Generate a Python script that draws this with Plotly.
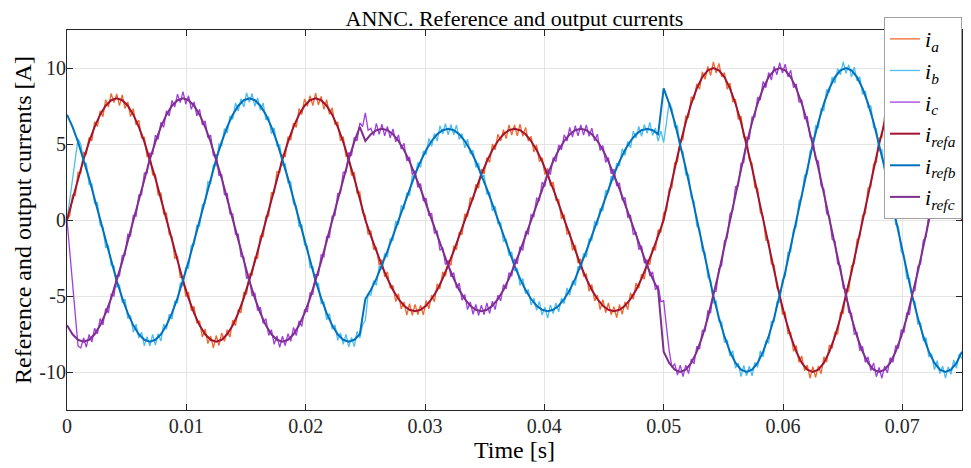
import plotly.graph_objects as go

# reference currents: one sample every 10 electrical degrees of the 60 Hz grid
REF_START = 0.0
REF_STEP = 0.075 / 162
# measured currents: one sample every 5 electrical degrees
OUT_START = 0.0
OUT_STEP = 0.075 / 324

# reference currents (A)
i_refa = [0, 1.39, 2.74, 4.00, 5.14, 6.13, 6.93, 7.52, 7.88, 8.00, 7.88, 7.52, 6.93, 6.13, 5.14, 4.00, 2.74, 1.39,
          0, -1.39, -2.74, -4.00, -5.14, -6.13, -6.93, -7.52, -7.88, -8.00, -7.88, -7.52, -6.93, -6.13, -5.14, -4.00, -2.74, -1.39,
          0, 1.39, 2.74, 4.00, 5.14, 6.13, 6.93, 7.52, 7.88, 8.00, 7.88, 7.52, 6.93, 6.13, 5.14, 4.00, 2.74, 1.39,
          0, -1.04, -2.05, -3.00, -3.86, -4.60, -5.20, -5.64, -5.91, -6.00, -5.91, -5.64, -5.20, -4.60, -3.86, -3.00, -2.05, -1.04,
          0, 1.04, 2.05, 3.00, 3.86, 4.60, 5.20, 5.64, 5.91, 6.00, 5.91, 5.64, 5.20, 4.60, 3.86, 3.00, 2.05, 1.04,
          0, -1.04, -2.05, -3.00, -3.86, -4.60, -5.20, -5.64, -5.91, -6.00, -5.91, -5.64, -5.20, -4.60, -3.86, -3.00, -2.05, -1.04,
          0, 1.74, 3.42, 5.00, 6.43, 7.66, 8.66, 9.40, 9.85, 10.00, 9.85, 9.40, 8.66, 7.66, 6.43, 5.00, 3.42, 1.74,
          0, -1.74, -3.42, -5.00, -6.43, -7.66, -8.66, -9.40, -9.85, -10.00, -9.85, -9.40, -8.66, -7.66, -6.43, -5.00, -3.42, -1.74,
          0, 1.74, 3.42, 5.00, 6.43, 7.66, 8.66, 9.40, 9.85, 10.00, 9.85, 9.40, 8.66, 7.66, 6.43, 5.00, 3.42, 1.74,
          0]
i_refb = [6.93, 6.13, 5.14, 4.00, 2.74, 1.39, 0, -1.39, -2.74, -4.00, -5.14, -6.13, -6.93, -7.52, -7.88, -8.00, -7.88, -7.52,
          -6.93, -6.13, -5.14, -4.00, -2.74, -1.39, 0, 1.39, 2.74, 4.00, 5.14, 6.13, 6.93, 7.52, 7.88, 8.00, 7.88, 7.52,
          6.93, 6.13, 5.14, 4.00, 2.74, 1.39, 0, -1.39, -2.74, -4.00, -5.14, -6.13, -6.93, -7.52, -7.88, -8.00, -7.88, -7.52,
          -5.20, -4.60, -3.86, -3.00, -2.05, -1.04, 0, 1.04, 2.05, 3.00, 3.86, 4.60, 5.20, 5.64, 5.91, 6.00, 5.91, 5.64,
          5.20, 4.60, 3.86, 3.00, 2.05, 1.04, 0, -1.04, -2.05, -3.00, -3.86, -4.60, -5.20, -5.64, -5.91, -6.00, -5.91, -5.64,
          -5.20, -4.60, -3.86, -3.00, -2.05, -1.04, 0, 1.04, 2.05, 3.00, 3.86, 4.60, 5.20, 5.64, 5.91, 6.00, 5.91, 5.64,
          8.66, 7.66, 6.43, 5.00, 3.42, 1.74, 0, -1.74, -3.42, -5.00, -6.43, -7.66, -8.66, -9.40, -9.85, -10.00, -9.85, -9.40,
          -8.66, -7.66, -6.43, -5.00, -3.42, -1.74, 0, 1.74, 3.42, 5.00, 6.43, 7.66, 8.66, 9.40, 9.85, 10.00, 9.85, 9.40,
          8.66, 7.66, 6.43, 5.00, 3.42, 1.74, 0, -1.74, -3.42, -5.00, -6.43, -7.66, -8.66, -9.40, -9.85, -10.00, -9.85, -9.40,
          -8.66]
i_refc = [-6.93, -7.52, -7.88, -8.00, -7.88, -7.52, -6.93, -6.13, -5.14, -4.00, -2.74, -1.39, 0, 1.39, 2.74, 4.00, 5.14, 6.13,
          6.93, 7.52, 7.88, 8.00, 7.88, 7.52, 6.93, 6.13, 5.14, 4.00, 2.74, 1.39, 0, -1.39, -2.74, -4.00, -5.14, -6.13,
          -6.93, -7.52, -7.88, -8.00, -7.88, -7.52, -6.93, -6.13, -5.14, -4.00, -2.74, -1.39, 0, 1.39, 2.74, 4.00, 5.14, 6.13,
          5.20, 5.64, 5.91, 6.00, 5.91, 5.64, 5.20, 4.60, 3.86, 3.00, 2.05, 1.04, 0, -1.04, -2.05, -3.00, -3.86, -4.60,
          -5.20, -5.64, -5.91, -6.00, -5.91, -5.64, -5.20, -4.60, -3.86, -3.00, -2.05, -1.04, 0, 1.04, 2.05, 3.00, 3.86, 4.60,
          5.20, 5.64, 5.91, 6.00, 5.91, 5.64, 5.20, 4.60, 3.86, 3.00, 2.05, 1.04, 0, -1.04, -2.05, -3.00, -3.86, -4.60,
          -8.66, -9.40, -9.85, -10.00, -9.85, -9.40, -8.66, -7.66, -6.43, -5.00, -3.42, -1.74, 0, 1.74, 3.42, 5.00, 6.43, 7.66,
          8.66, 9.40, 9.85, 10.00, 9.85, 9.40, 8.66, 7.66, 6.43, 5.00, 3.42, 1.74, 0, -1.74, -3.42, -5.00, -6.43, -7.66,
          -8.66, -9.40, -9.85, -10.00, -9.85, -9.40, -8.66, -7.66, -6.43, -5.00, -3.42, -1.74, 0, 1.74, 3.42, 5.00, 6.43, 7.66,
          8.66]

# measured output currents (A), with the inverter switching ripple
i_a = [0, 0.30, 1.64, 1.62, 3.14, 3.08, 4.45, 4.34, 5.44, 5.21, 6.48, 6.15, 7.18, 6.80, 7.92, 7.43, 8.33, 7.72,
       8.30, 7.52, 8.23, 7.33, 7.77, 6.80, 7.33, 6.25, 6.58, 5.41, 5.44, 4.14, 4.35, 2.98, 2.99, 1.62, 1.79, 0.40,
       0.45, -0.95, -1.09, -2.52, -2.39, -3.78, -3.75, -5.04, -4.74, -5.96, -5.68, -6.80, -6.63, -7.70, -7.17, -8.13, -7.63, -8.42,
       -7.60, -8.27, -7.43, -7.98, -7.22, -7.70, -6.58, -6.95, -5.88, -6.11, -4.74, -4.89, -3.55, -3.63, -2.44, -2.52, -1.04, -1.10,
       0.25, 0.25, 1.79, 1.77, 3.19, 3.13, 4.30, 4.14, 5.49, 5.26, 6.38, 6.10, 7.33, 6.95, 7.97, 7.48, 8.18, 7.52,
       8.35, 7.57, 8.13, 7.28, 7.92, 6.95, 7.38, 6.30, 6.43, 5.21, 5.49, 4.19, 4.25, 2.93, 3.14, 1.77, 1.84, 0.45,
       0.30, -0.97, -0.69, -1.95, -1.80, -2.99, -2.60, -3.74, -3.41, -4.49, -4.30, -5.37, -4.85, -5.84, -5.39, -6.25, -5.51, -6.28,
       -5.55, -6.23, -5.61, -6.25, -5.29, -5.84, -4.95, -5.37, -4.20, -4.54, -3.41, -3.69, -2.70, -2.99, -1.70, -1.95, -0.79, -0.97,
       0.40, 0.22, 1.49, 1.30, 2.35, 2.09, 3.35, 3.04, 4.11, 3.79, 5.00, 4.62, 5.65, 5.19, 5.94, 5.35, 6.26, 5.58,
       6.25, 5.53, 6.31, 5.50, 6.09, 5.19, 5.50, 4.47, 4.95, 3.84, 4.11, 2.99, 3.40, 2.24, 2.50, 1.30, 1.34, 0.07,
       0.35, -0.92, -0.79, -2.00, -1.65, -2.84, -2.55, -3.69, -3.56, -4.69, -4.25, -5.32, -4.95, -5.89, -5.24, -6.10, -5.46, -6.23,
       -5.70, -6.43, -5.56, -6.20, -5.39, -5.89, -4.80, -5.22, -4.15, -4.49, -3.56, -3.89, -2.65, -2.94, -1.80, -2.00, -0.64, -0.82,
       0.45, 0.62, 2.04, 2.14, 3.77, 3.83, 5.25, 5.29, 6.83, 6.77, 8.11, 7.94, 8.96, 8.61, 9.75, 9.26, 10.10, 9.51,
       10.40, 9.66, 10.30, 9.41, 9.70, 8.61, 9.01, 7.79, 7.91, 6.62, 6.83, 5.44, 5.45, 3.98, 3.72, 2.14, 2.09, 0.47,
       0.25, -1.32, -1.34, -2.89, -2.97, -4.48, -4.70, -6.19, -6.08, -7.47, -7.41, -8.64, -8.26, -9.36, -8.95, -9.91, -9.55, -10.41,
       -9.65, -10.36, -9.60, -10.11, -9.00, -9.36, -8.21, -8.44, -7.36, -7.52, -6.08, -6.14, -4.75, -4.68, -3.02, -2.89, -1.29, -1.12,
       0.30, 0.42, 2.09, 2.19, 3.67, 3.78, 5.40, 5.44, 6.88, 6.82, 7.96, 7.74, 9.01, 8.66, 9.65, 9.21, 10.25, 9.66,
       10.45, 9.71, 10.15, 9.21, 9.75, 8.66, 8.91, 7.74, 8.06, 6.77, 6.88, 5.49, 5.30, 3.78, 3.77, 2.19, 1.99, 0.42,
       0.40]
i_b = [0, 1.40, 2.75, 4.10, 5.35, 4.99, 3.75, 3.73, 2.34, 2.37, 1.09, 1.15, -0.35, -0.45, -1.84, -1.67, -2.99, -3.03,
       -4.40, -4.29, -5.44, -5.21, -6.48, -6.30, -7.38, -6.85, -7.77, -7.38, -8.28, -7.67, -8.30, -7.52, -8.23, -7.48, -7.97, -6.85,
       -7.18, -6.20, -6.53, -5.36, -5.44, -4.14, -4.35, -3.13, -3.19, -1.67, -1.64, -0.35, -0.40, 1.00, 1.09, 2.52, 2.39, 3.63,
       3.55, 4.99, 4.89, 6.01, 5.73, 6.85, 6.63, 7.70, 7.17, 7.98, 7.43, 8.37, 7.75, 8.32, 7.48, 8.03, 7.22, 7.70,
       6.58, 6.80, 5.68, 6.06, 4.89, 4.94, 3.60, 3.68, 2.44, 2.52, 1.04, 0.95, -0.45, -0.30, -1.64, -1.72, -3.14, -3.08,
       -4.30, -4.14, -5.49, -5.41, -6.58, -6.15, -7.18, -6.90, -7.92, -7.43, -8.18, -7.52, -8.35, -7.72, -8.33, -7.33, -7.77, -6.90,
       -6.60, -4.90, -4.95, -3.99, -4.31, -3.04, -3.25, -2.19, -2.45, -1.25, -1.34, -0.07, -0.30, 0.97, 0.69, 1.80, 1.60, 2.94,
       2.75, 3.79, 3.46, 4.54, 4.30, 5.37, 4.85, 5.69, 5.19, 6.20, 5.66, 6.33, 5.60, 6.28, 5.61, 6.25, 5.29, 5.69,
       4.75, 5.32, 4.35, 4.59, 3.46, 3.74, 2.70, 2.99, 1.70, 1.80, 0.59, 0.92, -0.25, -0.17, -1.44, -1.25, -2.35, -2.09,
       -3.35, -3.19, -4.31, -3.84, -4.85, -4.57, -5.60, -5.14, -5.94, -5.35, -6.26, -5.73, -6.45, -5.58, -6.16, -5.45, -6.04, -5.14,
       -5.50, -4.47, -4.95, -3.99, -4.31, -3.04, -3.25, -2.19, -2.45, -1.25, -1.34, -0.07, -0.35, 0.77, 0.59, 1.95, 1.80, 2.89,
       2.60, 3.74, 3.56, 4.69, 4.25, 5.17, 4.75, 5.84, 5.39, 6.15, 5.51, 6.28, 5.70, 6.43, 5.56, 6.05, 5.19, 5.84,
       5.10, 6.40, 7.75, 7.32, 6.13, 6.19, 4.65, 4.48, 2.97, 2.99, 1.49, 1.22, -0.40, -0.57, -2.04, -2.14, -3.77, -3.98,
       -5.45, -5.34, -6.68, -6.72, -8.06, -7.89, -8.96, -8.61, -9.75, -9.41, -10.30, -9.56, -10.25, -9.61, -10.25, -9.36, -9.70, -8.61,
       -9.01, -7.94, -8.11, -6.67, -6.68, -5.39, -5.40, -3.93, -3.72, -2.14, -2.09, -0.62, -0.45, 1.27, 1.49, 2.94, 3.02, 4.53,
       4.70, 6.19, 6.08, 7.32, 7.21, 8.59, 8.41, 9.41, 9.00, 9.96, 9.55, 10.41, 9.65, 10.21, 9.40, 10.06, 9.15, 9.41,
       8.26, 8.49, 7.36, 7.52, 6.08, 5.99, 4.55, 4.63, 3.17, 2.94, 1.34, 1.17, -0.30, -0.42, -2.09, -2.34, -3.87, -3.83,
       -5.25, -5.39, -6.83, -6.77, -7.96, -7.74, -9.01, -8.81, -9.85, -9.26, -10.10, -9.61, -10.40, -9.66, -10.15, -9.21, -9.75, -8.81,
       -9.11]
i_c = [0, -2.10, -4.30, -6.40, -8.30, -8.42, -7.75, -8.37, -7.53, -8.03, -7.12, -7.50, -6.48, -6.90, -5.83, -6.11, -4.89, -4.99,
       -3.65, -3.68, -2.34, -2.32, -0.94, -1.05, 0.30, 0.25, 1.64, 1.67, 3.09, 3.08, 4.40, 4.34, 5.59, 5.31, 6.43, 6.10,
       7.18, 6.85, 7.87, 7.43, 8.28, 7.72, 8.45, 7.62, 8.18, 7.28, 7.77, 6.85, 7.28, 6.25, 6.53, 5.41, 5.59, 4.24,
       4.30, 2.93, 2.99, 1.67, 1.74, 0.40, 0.40, -0.95, -0.94, -2.42, -2.44, -3.83, -3.75, -4.99, -4.79, -5.96, -5.73, -6.80,
       -6.48, -7.60, -7.22, -8.18, -7.63, -8.37, -7.65, -8.27, -7.48, -7.98, -7.07, -7.60, -6.63, -7.00, -5.88, -6.06, -4.79, -4.89,
       -3.60, -3.63, -2.29, -2.42, -1.09, -1.15, 0.25, 0.30, 1.74, 1.77, 3.14, 3.13, 4.45, 4.24, 5.44, 5.21, 6.38, 6.15,
       7.05, 5.90, 6.04, 5.55, 6.36, 5.63, 6.30, 5.53, 6.16, 5.40, 5.99, 5.14, 5.60, 4.67, 5.05, 3.89, 4.16, 2.99,
       3.25, 2.14, 2.40, 1.25, 1.44, 0.27, 0.45, -0.87, -0.74, -2.00, -1.80, -2.94, -2.65, -3.74, -3.46, -4.49, -4.15, -5.27,
       -4.90, -5.89, -5.39, -6.20, -5.56, -6.28, -5.60, -6.23, -5.46, -6.15, -5.34, -5.89, -4.95, -5.32, -4.25, -4.54, -3.46, -3.69,
       -2.55, -2.89, -1.75, -2.00, -0.79, -0.92, 0.35, 0.22, 1.44, 1.30, 2.50, 2.19, 3.30, 2.99, 4.11, 3.84, 4.95, 4.62,
       5.60, 5.19, 6.09, 5.45, 6.21, 5.53, 6.25, 5.58, 6.26, 5.50, 6.04, 5.19, 5.65, 4.57, 4.90, 3.79, 4.11, 3.04,
       3.35, 2.24, 2.45, 1.30, 1.49, 0.17, 0.30, -0.97, -0.79, -1.95, -1.70, -2.84, -2.60, -3.69, -3.41, -4.59, -4.30, -5.37,
       -5.30, -7.00, -8.60, -9.70, -9.45, -10.21, -9.55, -10.31, -9.55, -10.11, -9.15, -9.46, -8.31, -8.49, -7.26, -7.32, -5.98, -6.09,
       -4.70, -4.68, -3.17, -2.99, -1.39, -1.17, 0.40, 0.62, 2.19, 2.24, 3.72, 3.78, 5.25, 5.34, 6.78, 6.77, 8.06, 7.94,
       9.11, 8.71, 9.70, 9.21, 10.10, 9.56, 10.35, 9.66, 10.25, 9.41, 9.85, 8.71, 8.96, 7.74, 7.91, 6.67, 6.78, 5.44,
       5.40, 3.98, 3.87, 2.24, 2.04, 0.42, 0.25, -1.27, -1.39, -2.89, -3.02, -4.48, -4.55, -6.09, -6.13, -7.52, -7.41, -8.59,
       -8.31, -9.36, -9.00, -9.91, -9.40, -10.31, -9.70, -10.41, -9.60, -10.06, -9.05, -9.36, -8.26, -8.44, -7.21, -7.42, -6.13, -6.19,
       -4.75, -4.63, -3.07, -2.89, -1.34, -1.12, 0.45, 0.52, 2.04, 2.14, 3.67, 3.83, 5.35, 5.44, 6.83, 6.82, 8.11, 7.84,
       8.96]

x_ticks = [0, 0.01, 0.02, 0.03, 0.04, 0.05, 0.06, 0.07]
x_labels = ["0", "0.01", "0.02", "0.03", "0.04", "0.05", "0.06", "0.07"]
y_ticks = [-10, -5, 0, 5, 10]
y_labels = ["-10", "-5", "0", "5", "10"]

FONT = "Liberation Serif"

# (values, legend label, colour, width, start, step)
series = [
    (i_a, "<i>i<sub>a</sub></i>", "#F0692E", 1.3, OUT_START, OUT_STEP),
    (i_b, "<i>i<sub>b</sub></i>", "#4DBEEE", 1.3, OUT_START, OUT_STEP),
    (i_c, "<i>i<sub>c</sub></i>", "#A040DC", 1.3, OUT_START, OUT_STEP),
    (i_refa, "<i>i<sub>refa</sub></i>", "#A2142F", 2, REF_START, REF_STEP),
    (i_refb, "<i>i<sub>refb</sub></i>", "#0072BD", 2, REF_START, REF_STEP),
    (i_refc, "<i>i<sub>refc</sub></i>", "#7E2F8E", 2, REF_START, REF_STEP),
]

fig = go.Figure()
for values, name, color, width, start, step in series:
    fig.add_trace(go.Scatter(y=values, x0=start, dx=step, mode="lines", name=name,
                             line=dict(color=color, width=width)))

axis_style = dict(showline=True, linecolor="#262626", linewidth=1, mirror="ticks",
                  ticks="inside", ticklen=6, tickcolor="#262626",
                  showgrid=True, gridcolor="#E5E5E5", gridwidth=1, zeroline=False,
                  automargin=False,
                  tickfont=dict(family=FONT, size=20, color="#262626"))

# the page puts the figure 8 px in from the top-left corner
fig.update_layout(
    width=963, height=460,
    margin=dict(l=59, r=9, t=22, b=58, autoexpand=False),
    paper_bgcolor="white", plot_bgcolor="white",
    title=dict(text="ANNC. Reference and output currents", x=0.5, xref="paper",
               y=1, yref="paper", yanchor="bottom", pad=dict(b=4),
               font=dict(family=FONT, size=22, color="black")),
    xaxis=dict(range=[0, 0.075], tickvals=x_ticks, ticktext=x_labels, ticklabelstandoff=-2,
               title=dict(text="Time [s]", font=dict(family=FONT, size=24, color="black"), standoff=5),
               **axis_style),
    yaxis=dict(range=[-12.5, 12.5], tickvals=y_ticks, ticktext=y_labels, ticklabelstandoff=-4,
               title=dict(text="Reference and output currents [A]",
                          font=dict(family=FONT, size=24, color="black"), standoff=0),
               **axis_style),
    legend=dict(x=1, xanchor="right", y=1.034, yanchor="top",
                bgcolor="white", bordercolor="#A0A0A0", borderwidth=1,
                font=dict(family=FONT, size=22, color="black"),
                itemwidth=30, tracegroupgap=0),
    showlegend=True,
)

fig.write_html("out.html")
